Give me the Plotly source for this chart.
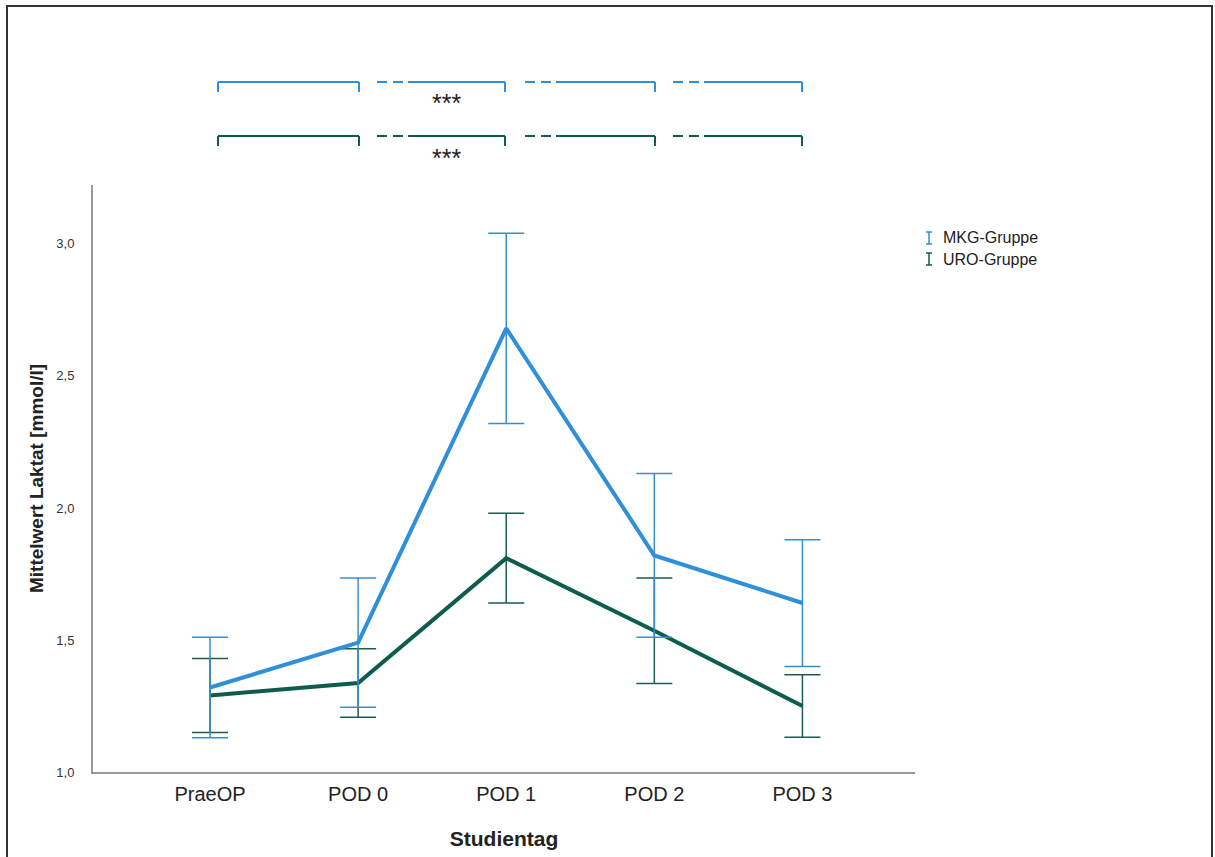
import plotly.graph_objects as go

categories = ["PraeOP", "POD 0", "POD 1", "POD 2", "POD 3"]
mkg_mean = [1.32, 1.49, 2.68, 1.82, 1.64]
mkg_err = [0.19, 0.245, 0.36, 0.31, 0.24]
uro_mean = [1.29, 1.337, 1.81, 1.535, 1.25]
uro_err = [0.14, 0.13, 0.17, 0.20, 0.118]
series_names = ["MKG-Gruppe", "URO-Gruppe"]
sig_label = "***"

W, H = 1215, 857
L, R, T, B = 93, 915, 185, 772
MKG_C = "#2F8FD8"
URO_C = "#0F5C4E"
FONT = "Liberation Sans, Arial, sans-serif"


def px(x):
    return (x - L) / (R - L)


def py(y):
    return (B - y) / (B - T)


fig = go.Figure()
for name, mean, err, col, ecol in [
    (series_names[1], uro_mean, uro_err, URO_C, "#1D5C50"),
    (series_names[0], mkg_mean, mkg_err, MKG_C, "#3A8FC8"),
]:
    fig.add_trace(go.Scatter(
        x=categories, y=mean, mode="lines", name=name,
        line=dict(color=col, width=4),
        error_y=dict(type="data", array=err, visible=True, color=ecol,
                     thickness=1.5, width=18),
        showlegend=False,
    ))

shapes = []
# outer frame
shapes.append(dict(type="rect", xref="paper", yref="paper",
                   x0=px(7), x1=px(1212), y0=py(870), y1=py(6),
                   line=dict(color="#333333", width=2), layer="below"))

# significance brackets
for ly, col in [(82, MKG_C), (136, URO_C)]:
    tb = ly + 10
    segs = [
        (218, 359, True),
        (377, 505, False),
        (525, 655, False),
        (673, 802, False),
    ]
    for x0, x1, left_tick in segs:
        if left_tick:
            shapes.append(dict(type="line", xref="paper", yref="paper",
                               x0=px(x0), x1=px(x1), y0=py(ly), y1=py(ly),
                               line=dict(color=col, width=2)))
            shapes.append(dict(type="line", xref="paper", yref="paper",
                               x0=px(x0), x1=px(x0), y0=py(ly), y1=py(tb),
                               line=dict(color=col, width=2)))
        else:
            for a, b in [(x0, x0 + 10), (x0 + 16, x0 + 26)]:
                shapes.append(dict(type="line", xref="paper", yref="paper",
                                   x0=px(a), x1=px(b), y0=py(ly), y1=py(ly),
                                   line=dict(color=col, width=2)))
            shapes.append(dict(type="line", xref="paper", yref="paper",
                               x0=px(x0 + 31), x1=px(x1), y0=py(ly), y1=py(ly),
                               line=dict(color=col, width=2)))
        shapes.append(dict(type="line", xref="paper", yref="paper",
                           x0=px(x1), x1=px(x1), y0=py(ly), y1=py(tb),
                           line=dict(color=col, width=2)))

annotations = []
for sy in [103, 158]:
    annotations.append(dict(xref="paper", yref="paper", x=px(446), y=py(sy),
                            text=sig_label, showarrow=False,
                            font=dict(family=FONT, size=25, color="#222222"),
                            xanchor="center", yanchor="middle"))

# legend (error-bar glyphs + labels)
for i, (name, col) in enumerate([(series_names[0], MKG_C), (series_names[1], URO_C)]):
    cy = 238 + i * 21
    gx = 929
    shapes.append(dict(type="line", xref="paper", yref="paper",
                       x0=px(gx), x1=px(gx), y0=py(cy - 6), y1=py(cy + 6),
                       line=dict(color=col, width=1.5)))
    for yy in (cy - 6, cy + 6):
        shapes.append(dict(type="line", xref="paper", yref="paper",
                           x0=px(gx - 3), x1=px(gx + 3), y0=py(yy), y1=py(yy),
                           line=dict(color=col, width=1.5)))
    annotations.append(dict(xref="paper", yref="paper", x=px(941), y=py(cy),
                            text=name, showarrow=False,
                            font=dict(family=FONT, size=16, color="#222222"),
                            xanchor="left", yanchor="middle"))

fig.update_layout(
    width=W, height=H,
    margin=dict(l=L, r=W - R, t=T, b=H - B, pad=0, autoexpand=False),
    paper_bgcolor="white", plot_bgcolor="white",
    separators=",.",
    font=dict(family=FONT, color="#222222"),
    shapes=shapes, annotations=annotations,
    showlegend=False,
    xaxis=dict(
        type="category", categoryorder="array", categoryarray=categories,
        range=[-0.79, 4.76], showgrid=False, zeroline=False, automargin=False,
        showline=True, linecolor="#9a9a9a", linewidth=2,
        ticks="", tickfont=dict(family=FONT, size=20, color="#222222"),
        ticklabelstandoff=3,
        title=dict(text="<b>Studientag</b>", font=dict(family=FONT, size=21, color="#222222"),
                   standoff=27),
    ),
    yaxis=dict(
        range=[1.0, 3.223], tickvals=[1.0, 1.5, 2.0, 2.5, 3.0], tickformat=".1f",
        showgrid=False, zeroline=False, automargin=False,
        showline=True, linecolor="#9a9a9a", linewidth=2,
        ticks="", tickfont=dict(family=FONT, size=13, color="#333333"),
        ticklabelstandoff=14,
        title=dict(text="<b>Mittelwert Laktat [mmol/l]</b>",
                   font=dict(family=FONT, size=19, color="#222222"), standoff=8),
    ),
)

fig.write_html("out.html")
